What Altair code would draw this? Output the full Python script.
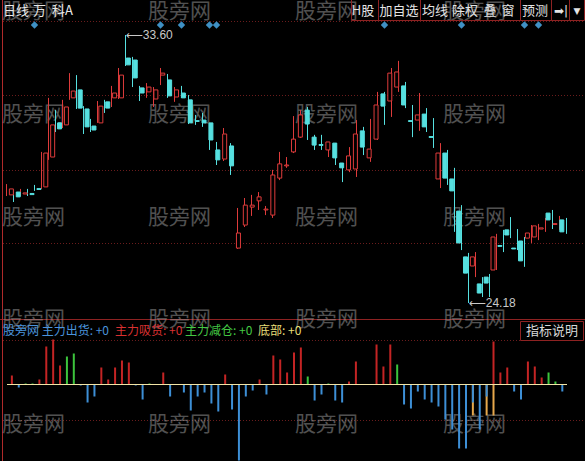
import altair as alt
import pandas as pd

# Daily bars (oldest first)
opens = [27.98, 28.08, 28.01, 28.03, 28.20, 28.26, 29.31, 30.51, 30.44, 31.39,
         31.67, 31.00, 30.40, 30.51, 31.25, 31.39, 31.39, 32.79, 32.72, 31.74,
         31.60, 31.35, 32.19, 32.02, 31.42, 31.56, 31.32, 30.59, 30.61, 30.51,
         29.56, 29.24, 29.70, 26.11, 26.92, 27.55, 27.77, 27.45, 27.27, 28.57,
         29.00, 29.49, 30.01, 30.96, 30.01, 29.75, 29.56, 29.80, 29.10, 28.86,
         28.89, 30.23, 29.28, 29.94, 31.53, 31.28, 31.77, 31.81, 30.59, 30.61,
         30.82, 30.03, 28.54, 29.45, 28.54, 27.41, 25.80, 25.48, 24.85, 25.09,
         25.34, 26.20, 26.75, 26.11, 26.36, 26.46, 26.50, 26.78, 27.34, 26.94,
         27.10]
closes = [28.19, 27.91, 28.05, 27.99, 28.17, 29.45, 30.44, 30.30, 31.07, 31.63,
          31.03, 30.37, 30.26, 31.10, 31.03, 31.56, 32.19, 32.55, 32.09, 31.56,
          31.77, 31.67, 32.26, 31.46, 31.67, 31.39, 30.51, 30.56, 30.51, 29.91,
          29.21, 30.12, 29.00, 26.64, 27.62, 27.62, 27.91, 27.48, 28.68, 29.07,
          29.03, 29.94, 30.79, 30.47, 29.73, 29.72, 29.84, 29.28, 28.93, 29.35,
          30.12, 29.66, 29.59, 31.14, 31.10, 32.26, 32.30, 31.14, 30.56, 30.79,
          30.37, 30.00, 29.45, 28.57, 28.12, 26.29, 25.23, 25.80, 24.53, 24.88,
          26.50, 26.17, 26.57, 26.08, 25.66, 26.64, 26.89, 26.82, 27.10, 26.97,
          26.68]
highs = [28.36, 28.15, 28.19, 28.19, 28.33, 29.49, 31.39, 30.96, 31.32, 32.26,
         32.19, 31.10, 30.65, 31.28, 31.32, 31.81, 32.44, 33.60, 32.83, 31.81,
         31.91, 31.77, 32.44, 32.23, 31.77, 31.81, 31.49, 30.79, 30.86, 30.51,
         29.84, 30.33, 29.80, 27.52, 27.87, 27.98, 28.08, 27.59, 28.86, 29.49,
         29.31, 30.75, 30.96, 31.07, 30.09, 30.09, 29.84, 29.80, 29.10, 29.66,
         30.61, 30.37, 30.65, 31.60, 31.60, 32.44, 32.69, 31.95, 31.14, 31.56,
         31.03, 30.68, 29.80, 29.56, 28.93, 27.62, 25.94, 25.97, 25.09, 25.20,
         26.61, 26.75, 27.20, 26.78, 26.50, 26.92, 26.96, 27.17, 27.45, 27.24,
         27.17]
lows = [27.94, 27.73, 27.94, 27.94, 28.12, 28.19, 29.21, 30.19, 30.33, 31.32,
        31.00, 30.12, 30.19, 30.51, 30.86, 31.07, 31.35, 32.51, 31.77, 31.28,
        31.39, 31.07, 31.84, 31.39, 31.25, 31.39, 30.47, 30.44, 30.37, 29.56,
        29.03, 29.17, 28.68, 26.08, 26.85, 27.24, 27.45, 27.27, 27.17, 28.50,
        28.93, 29.45, 29.98, 29.91, 29.56, 29.56, 29.31, 29.03, 28.43, 28.78,
        28.61, 29.38, 29.14, 29.91, 30.44, 30.72, 31.60, 31.03, 30.01, 30.23,
        30.19, 29.63, 28.22, 28.33, 26.68, 26.04, 24.18, 25.09, 24.39, 24.39,
        25.34, 25.97, 26.46, 26.04, 25.45, 26.29, 26.39, 26.68, 26.78, 26.75,
        26.61]

# Days flagged with a signal diamond above the price panel
signal_days = [4, 22, 25, 29, 30, 54, 65, 74, 76]

# Indicator panel: 主力吸货 (red), 主力减仓 (green), 主力出货 (blue), 底部 (orange)
xihuo = [9, 0, 0, 0, 5, 38, 45, 19, 0, 0,
         0, 0, 0, 17, 5, 17, 24, 22, 0, 0,
         0, 0, 12, 0, 0, 0, 0, 0, 0, 0,
         0, 10, 0, 0, 0, 0, 5, 0, 29, 25,
         12, 32, 37, 0, 0, 0, 0, 0, 0, 3,
         23, 0, 0, 40, 18, 40, 0, 0, 0, 0,
         0, 0, 0, 0, 0, 0, 0, 0, 0, 0,
         43, 12, 17, 0, 0, 23, 18, 7, 0, 0,
         0]
jiancang = [0, 0, 1, 1, 0, 0, 0, 0, 28, 31,
            0, 0, 0, 0, 0, 0, 0, 0, 0, 0,
            1, 0, 0, 0, 0, 0, 0, 0, 0, 0,
            0, 0, 0, 0, 0, 0, 0, 0, 0, 0,
            0, 0, 0, 8, 0, 0, 1, 0, 0, 0,
            0, 0, 0, 0, 0, 0, 20, 0, 0, 0,
            0, 0, 0, 0, 0, 0, 0, 0, 0, 0,
            0, 0, 0, 0, 0, 0, 0, 0, 12, 3,
            0]
chuhuo = [0, -3, 0, 0, 0, 0, 0, 0, 0, 0,
          -1, -18, -12, 0, 0, 0, 0, 0, -1, -15,
          0, 0, 0, -12, 0, -8, -26, -12, -8, -19,
          -27, 0, -25, -76, -12, -6, 0, -10, 0, 0,
          0, 0, 0, 0, -16, -10, 0, -16, -18, 0,
          0, 0, 0, 0, 0, 0, 0, -20, -24, -7,
          -15, -18, -22, -35, -45, -64, -64, -18, -45, -12,
          0, 0, 0, -7, -15, 0, 0, 0, 0, 0,
          -7]
dibu = [0] * 67 + [-31, 0, -31, -31] + [0] * 10

W, H = 585, 461
RED = "#de3b3b"
CYAN = "#56e0e0"
GRID = "#6a1c1c"
FRAME = "#8e2222"
FONT = "Noto Sans CJK SC"

n = len(opens)
k = pd.DataFrame({"i": range(n), "open": opens, "close": closes,
                  "high": highs, "low": lows})

x_k = alt.X("i:Q", scale=alt.Scale(domain=[-6.5 / 7, (W - 6.5) / 7], nice=False, zero=False), axis=None)
y_p = alt.Scale(domain=[18.626, 34.830], nice=False, zero=False)
x_ind_scale = alt.Scale(domain=[-1.0, (W - 7) / 7], nice=False, zero=False)
y_ind = alt.Scale(domain=[-76.5, 384.5], nice=False, zero=False)

one = pd.DataFrame({"k": [0]})


def text_at(t, x, y, color, size=12, align="left", font=FONT, opacity=1.0):
    return alt.Chart(one).mark_text(
        text=t, align=align, baseline="middle", fontSize=size, font=font,
        color=color, opacity=opacity,
    ).encode(x=alt.value(x), y=alt.value(y))


def hline(y, x0, x1, color, dash=None):
    kw = dict(color=color, strokeWidth=1)
    if dash:
        kw["strokeDash"] = dash
    return alt.Chart(one).mark_rule(**kw).encode(
        x=alt.value(x0), x2=alt.value(x1), y=alt.value(y))


def vline(x, y0, y1, color):
    return alt.Chart(one).mark_rule(color=color, strokeWidth=1).encode(
        x=alt.value(x), y=alt.value(y0), y2=alt.value(y1))


def box(x0, x1, y0, y1, stroke):
    return alt.Chart(one).mark_rect(
        fill="black", fillOpacity=0, stroke=stroke, strokeWidth=1
    ).encode(x=alt.value(x0), x2=alt.value(x1), y=alt.value(y0), y2=alt.value(y1))


layers = []

# grid and frame
for gy in [21.5, 95.5, 170.5, 243.5, 340.5, 420.5]:
    layers.append(hline(gy, 3, W, GRID, dash=[1, 2]))
layers.append(hline(319.5, 0, W, FRAME))
layers.append(vline(2.5, 0, H, "#b02a2a"))

# site watermark
for wy in [12, 115, 218, 320, 425]:
    for wx in [2, 148, 295, 443]:
        layers.append(text_at("股旁网", wx, wy, "#a0a0a0", size=21, opacity=0.5))

# candlesticks
up = alt.datum.close >= alt.datum.open
layers.append(
    alt.Chart(k).mark_rule(strokeWidth=1).encode(
        x=x_k,
        y=alt.Y("low:Q", scale=y_p, axis=None),
        y2="high:Q",
        color=alt.condition(up, alt.value(RED), alt.value(CYAN)),
    )
)
layers.append(
    alt.Chart(k).transform_filter(up).mark_bar(
        size=4, fill="black", stroke=RED, strokeWidth=1
    ).encode(x=x_k, y=alt.Y("open:Q", scale=y_p, axis=None), y2="close:Q")
)
layers.append(
    alt.Chart(k).transform_filter(alt.datum.close < alt.datum.open).mark_bar(
        size=4, fill=CYAN, stroke=CYAN, strokeWidth=1
    ).encode(x=x_k, y=alt.Y("open:Q", scale=y_p, axis=None), y2="close:Q")
)

# period high / low markers
hi_i = int(k["high"].idxmax())
lo_i = int(k["low"].idxmin())
ann = pd.DataFrame({"i": [hi_i, lo_i], "p": [k["high"].max(), k["low"].min()]})
ann["t"] = "⟵" + ann["p"].map("{:.2f}".format)
layers.append(
    alt.Chart(ann).mark_text(
        align="left", baseline="middle", fontSize=12,
        font="Liberation Sans, DejaVu Sans", color="#c8c8c8",
    ).encode(x=x_k, y=alt.Y("p:Q", scale=y_p, axis=None), text="t:N")
)

# signal diamonds
layers.append(
    alt.Chart(pd.DataFrame({"i": signal_days})).mark_point(
        shape="diamond", filled=True, size=55, color="#3f90c4", opacity=1
    ).encode(x=x_k, y=alt.value(25))
)

# indicator bars
ind = pd.DataFrame({"i": range(n), "xihuo": xihuo, "jiancang": jiancang,
                    "chuhuo": chuhuo, "dibu": dibu, "zero": 0})


def ind_bars(col, color):
    return alt.Chart(ind).transform_filter(alt.datum[col] != 0).mark_bar(
        size=2, color=color
    ).encode(
        x=alt.X("i:Q", scale=x_ind_scale, axis=None),
        y=alt.Y(f"{col}:Q", scale=y_ind, axis=None),
        y2="zero:Q",
    )


layers.append(ind_bars("dibu", "#e6a84c"))
layers.append(ind_bars("chuhuo", "#3d8fd6"))
layers.append(ind_bars("xihuo", "#c42424"))
layers.append(ind_bars("jiancang", "#3cc43c"))
layers.append(
    alt.Chart(pd.DataFrame({"a": [0], "b": [n - 1], "z": [0]})).mark_rule(
        color="#f2e4a6", strokeWidth=1
    ).encode(
        x=alt.X("a:Q", scale=x_ind_scale, axis=None),
        x2="b:Q",
        y=alt.Y("z:Q", scale=y_ind, axis=None),
    )
)

# indicator legend line
layers.append(text_at("股旁网 主力出货: +0", 3, 331, "#4a93dc"))
layers.append(text_at("主力吸货: +0", 115, 331, "#d83030"))
layers.append(text_at("主力减仓: +0", 185, 331, "#44c844"))
layers.append(text_at("底部: +0", 258, 331, "#e8df78"))
layers.append(box(520.5, 583.5, 321.5, 340.5, FRAME))
layers.append(text_at("指标说明", 552, 331, "#d8d8d8", size=13, align="center"))

# title and toolbar
layers.append(text_at("日线", 3, 11, "#e8e8e8", size=13))
layers.append(text_at("万", 33, 11, "#e8e8e8", size=13))
layers.append(text_at("科A", 52, 11, "#e8e8e8", size=13))
for bx0, bx1 in [(351.5, 378.5), (378.5, 420.5), (420.5, 520.5), (520.5, 551.5),
                 (551.5, 569.5), (569.5, 584.5)]:
    layers.append(box(bx0, bx1, -0.5, 20.5, FRAME))
for label, cx in [("H股", 363), ("加自选", 399), ("均线", 435), ("除权", 465),
                  ("叠", 490), ("窗", 508), ("预测", 535)]:
    layers.append(text_at(label, cx, 11, "#e4e4e4", size=13, align="center"))
layers.append(text_at("➡|", 561, 11, "#e4e4e4", size=12, align="center", font="DejaVu Sans"))
layers.append(text_at("▼", 577, 11, "#e4e4e4", size=9, align="center", font="DejaVu Sans"))

chart = alt.layer(*layers).resolve_scale(
    x="independent", y="independent"
).properties(
    width=W, height=H, padding=0,
    autosize=alt.AutoSizeParams(type="none"),
).configure(background="#000000").configure_view(strokeWidth=0)

chart.save("out.html", embed_options={"renderer": "svg", "actions": False})
